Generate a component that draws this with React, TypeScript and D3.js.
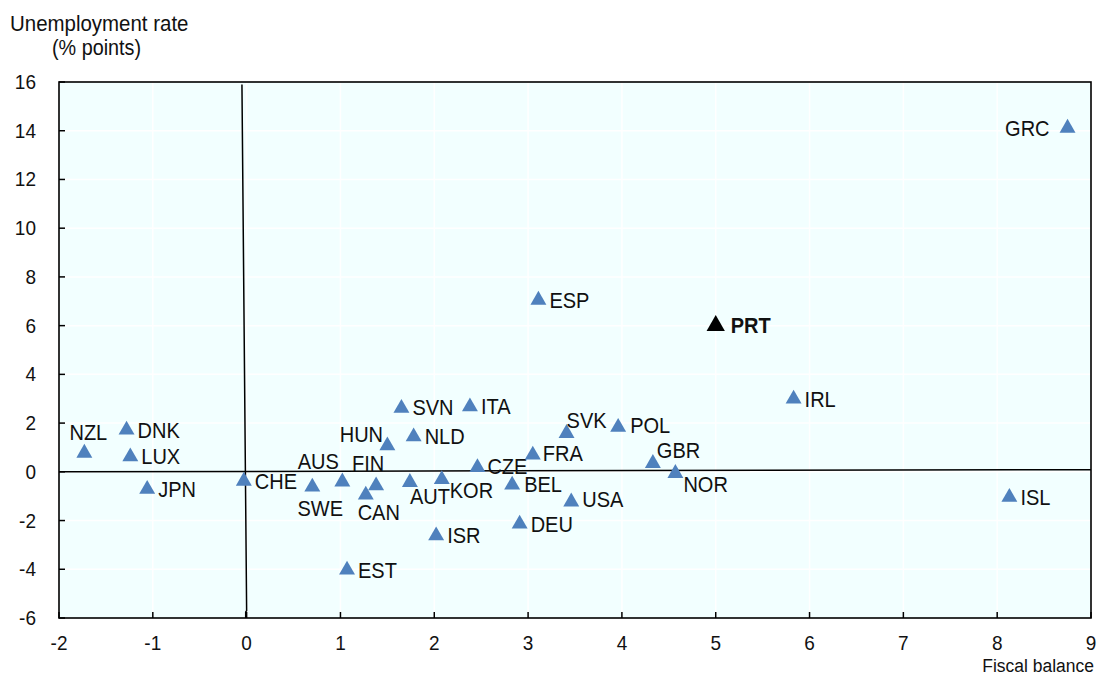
import React from "react";
import * as d3 from "d3";

// ---- Data ----
const countries = ["GRC","ESP","PRT","IRL","ISL","NZL","DNK","LUX","JPN","CHE","SWE","AUS","FIN","CAN","HUN","SVN","NLD","ITA","AUT","KOR","CZE","BEL","FRA","ISR","DEU","EST","SVK","POL","USA","GBR","NOR"];
const fiscalBalance = [8.75,3.11,5.0,5.83,8.13,-1.73,-1.28,-1.24,-1.06,-0.03,0.70,1.02,1.38,1.27,1.50,1.65,1.78,2.38,1.74,2.08,2.46,2.83,3.05,2.02,2.91,1.07,3.41,3.96,3.46,4.33,4.57];
const unemploymentChange = [14.11,7.05,6.0,2.99,-1.04,0.77,1.72,0.62,-0.71,-0.38,-0.62,-0.41,-0.57,-0.95,1.07,2.61,1.44,2.67,-0.43,-0.31,0.18,-0.54,0.69,-2.62,-2.14,-4.03,1.58,1.83,-1.23,0.35,-0.06];
const highlighted = ["PRT"];

const xTicks = [-2,-1,0,1,2,3,4,5,6,7,8,9];
const yTicks = [-6,-4,-2,0,2,4,6,8,10,12,14,16];

// hand-drawn reference lines in the original (data coordinates)
const zeroLineV: [number, number][] = [[-0.05,15.9],[0.0,-5.7],[-0.01,-5.75],[-0.01,-6]];
const zeroLineH: [number, number][] = [[-2,0],[9,0.09]];

// label placement: [anchor, dx, dy] in px
const labelPlacement: Record<string, [string, number, number]> = {
  GRC: ["end", -18, 0], NZL: ["middle", 4, -21], SWE: ["middle", 8, 21], AUS: ["middle", -24, -21],
  FIN: ["middle", -8, -22], CAN: ["middle", 13, 17], HUN: ["middle", -26, -11], AUT: ["start", 0, 14],
  KOR: ["start", 8, 11], SVK: ["start", 0, -13], GBR: ["start", 4, -13], NOR: ["start", 8, 11],
  CZE: ["start", 10, -1], FRA: ["start", 10, -2], POL: ["start", 12, -2], USA: ["start", 11, -2],
  BEL: ["start", 12, -1], SVN: ["start", 11, -1], PRT: ["start", 15, 0],
};

const W = 1108, H = 677;
const FONT = "'Liberation Sans',Arial,sans-serif";
const NARROW = 0.91;

export default function App() {
  const x = d3.scaleLinear().domain([-2, 9]).range([59, 1091]);
  const y = d3.scaleLinear().domain([-6, 16]).range([618, 82]);
  const line = d3.line<[number, number]>().x(d => x(d[0])).y(d => y(d[1]));
  const tri = d3.symbol().type(d3.symbolTriangle).size(110)()!;
  const triBig = d3.symbol().type(d3.symbolTriangle).size(145)()!;
  const [x0, x1] = x.range();
  const [yb, yt] = y.range();

  const T = (props: any) => {
    const { x: tx, y: ty, sx = NARROW, children, ...rest } = props;
    return (
      <text transform={`translate(${tx},${ty}) scale(${sx},1)`} fill="#111" {...rest}>{children}</text>
    );
  };

  return (
    <svg width={W} height={H} style={{ position: "absolute", left: 0, top: 0 }} fontFamily={FONT}>
      <rect x={0} y={0} width={W} height={H} fill="#fff" />
      <rect x={x0} y={yt} width={x1 - x0} height={yb - yt} fill="#F2FFFF" />
      {/* gridlines */}
      {xTicks.slice(1, -1).map(t => (
        <line key={"gx" + t} x1={x(t)} x2={x(t)} y1={yt} y2={yb} stroke="#fff" strokeWidth={1.5} />
      ))}
      {yTicks.slice(1, -1).map(t => (
        <line key={"gy" + t} x1={x0} x2={x1} y1={y(t)} y2={y(t)} stroke="#fff" strokeWidth={1.5} />
      ))}
      {/* zero lines */}
      <path d={line(zeroLineV)!} fill="none" stroke="#000" strokeWidth={1.5} />
      <path d={line(zeroLineH)!} fill="none" stroke="#000" strokeWidth={1.5} />
      {/* frame */}
      <rect x={x0} y={yt} width={x1 - x0} height={yb - yt} fill="none" stroke="#000" strokeWidth={1.6} />
      {/* ticks */}
      {xTicks.map(t => (
        <line key={"tx" + t} x1={x(t)} x2={x(t)} y1={yb} y2={yb - 6} stroke="#000" strokeWidth={1.5} />
      ))}
      {yTicks.map(t => (
        <line key={"ty" + t} x1={x0} x2={x0 + 6} y1={y(t)} y2={y(t)} stroke="#000" strokeWidth={1.5} />
      ))}
      {/* tick labels */}
      {xTicks.map(t => (
        <T key={"lx" + t} x={x(t)} y={643} sx={0.95} dy="0.35em" textAnchor="middle" fontSize={20}>{t}</T>
      ))}
      {yTicks.map(t => (
        <T key={"ly" + t} x={36} y={y(t)} sx={0.95} dy="0.35em" textAnchor="end" fontSize={20}>{t}</T>
      ))}
      {/* axis titles */}
      <T x={10} y={31} sx={0.93} fontSize={22}>Unemployment rate</T>
      <T x={52} y={55} sx={0.9} fontSize={22}>(% points)</T>
      <T x={1094} y={672} sx={0.92} textAnchor="end" fontSize={19}>Fiscal balance</T>
      {/* points */}
      {countries.map((c, i) => {
        const hi = highlighted.includes(c);
        const px = x(fiscalBalance[i]);
        const py = y(unemploymentChange[i]);
        const [anchor, dx, dy] = labelPlacement[c] || ["start", 11, 0];
        return (
          <g key={c}>
            <path d={hi ? triBig : tri} transform={`translate(${px},${py})`} fill={hi ? "#000" : "#4F81BD"} />
            <T x={px + dx} y={py + dy} dy="0.35em" textAnchor={anchor} fontSize={22}
              fontWeight={hi ? "bold" : "normal"}>{c}</T>
          </g>
        );
      })}
    </svg>
  );
}
